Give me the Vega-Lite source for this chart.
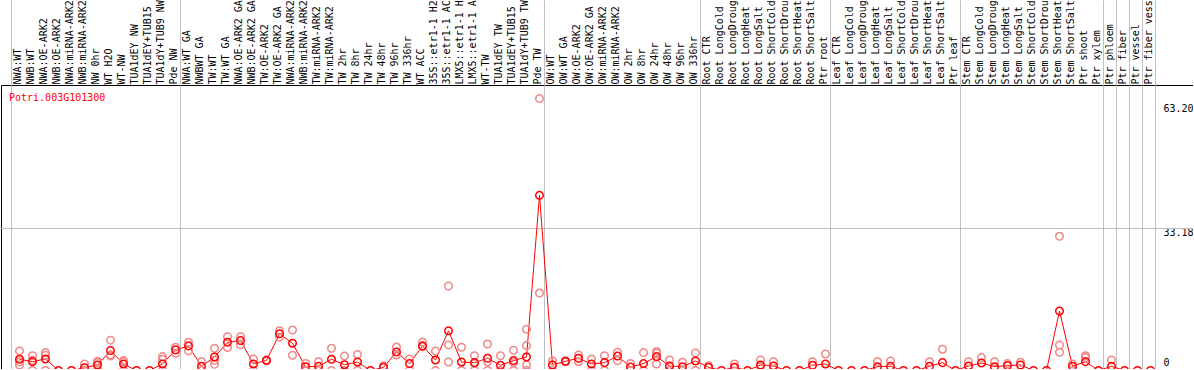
{
  "$schema": "https://vega.github.io/schema/vega-lite/v6.json",
  "width": 1192,
  "height": 284,
  "autosize": {"type": "none"},
  "padding": {"left": 1, "top": 85, "right": 0, "bottom": 0},
  "background": "white",
  "config": {
    "view": {"stroke": "black", "strokeWidth": 1},
    "font": "DejaVu Sans Mono"
  },
  "title": {
    "text": "Potri.003G101300",
    "orient": "bottom",
    "anchor": "start",
    "frame": "group",
    "baseline": "alphabetic",
    "offset": -276,
    "dx": 8,
    "color": "#ff0000",
    "font": "DejaVu Sans Mono",
    "fontSize": 10,
    "fontWeight": "normal"
  },
  "datasets": {
    "means": [
      {"sample": "NWA:WT", "value": 2.61},
      {"sample": "NWB:WT", "value": 2.06},
      {"sample": "NWA:OE-ARK2", "value": 2.68},
      {"sample": "NWB:OE-ARK2", "value": 0},
      {"sample": "NWA:miRNA-ARK2", "value": 0},
      {"sample": "NWB:miRNA-ARK2", "value": 0.65},
      {"sample": "NW 0hr", "value": 1.28},
      {"sample": "WT H2O", "value": 4.63},
      {"sample": "WT-NW", "value": 1.52},
      {"sample": "TUA1dEY NW", "value": 0},
      {"sample": "TUA1dEY+TUB15 NW", "value": 0},
      {"sample": "TUA1dY+TUB9 NW", "value": 1.52},
      {"sample": "Pde NW", "value": 4.79},
      {"sample": "NWA:WT GA", "value": 5.72},
      {"sample": "NWBWT GA", "value": 0.97},
      {"sample": "TW:WT", "value": 3.15},
      {"sample": "TW:WT GA", "value": 6.55},
      {"sample": "NWA:OE-ARK2 GA", "value": 6.95},
      {"sample": "NWB:OE-ARK2 GA", "value": 1.52},
      {"sample": "TW:OE-ARK2", "value": 2.35},
      {"sample": "TW:OE-ARK2 GA", "value": 8.52},
      {"sample": "NWA:miRNA-ARK2 GA", "value": 6.35},
      {"sample": "NWB:miRNA-ARK2 GA", "value": 0.89},
      {"sample": "TW:miRNA-ARK2", "value": 0.97},
      {"sample": "TW:miRNA-ARK2 GA", "value": 2.61},
      {"sample": "TW 2hr", "value": 1.35},
      {"sample": "TW 8hr", "value": 1.98},
      {"sample": "TW 24hr", "value": 0},
      {"sample": "TW 48hr", "value": 0.74},
      {"sample": "TW 96hr", "value": 4.32},
      {"sample": "TW 336hr", "value": 1.6},
      {"sample": "WT ACC", "value": 5.72},
      {"sample": "35S::etr1-1 H2O", "value": 2.45},
      {"sample": "35S::etr1-1 ACC", "value": 9.22},
      {"sample": "LMX5::etr1-1 H2O", "value": 1.98},
      {"sample": "LMX5::etr1-1 ACC", "value": 1.83},
      {"sample": "WT-TW", "value": 2.85},
      {"sample": "TUA1dEY TW", "value": 1.21},
      {"sample": "TUA1dEY+TUB15 TW", "value": 2.3},
      {"sample": "TUA1dY+TUB9 TW", "value": 3.15},
      {"sample": "Pde TW", "value": 40.7},
      {"sample": "OW:WT", "value": 1.28},
      {"sample": "OW:WT GA", "value": 2.14},
      {"sample": "OW:OE-ARK2", "value": 2.85},
      {"sample": "OW:OE-ARK2 GA", "value": 1.52},
      {"sample": "OW:miRNA-ARK2", "value": 1.83},
      {"sample": "OW:miRNA-ARK2 GA", "value": 3.35},
      {"sample": "OW 2hr", "value": 0.82},
      {"sample": "OW 8hr", "value": 1.6},
      {"sample": "OW 24hr", "value": 3.23},
      {"sample": "OW 48hr", "value": 1.05},
      {"sample": "OW 96hr", "value": 0.89},
      {"sample": "OW 336hr", "value": 2.22},
      {"sample": "Root CTR", "value": 0.74},
      {"sample": "Root LongCold", "value": 0},
      {"sample": "Root LongDrought", "value": 0.74},
      {"sample": "Root LongHeat", "value": 0},
      {"sample": "Root LongSalt", "value": 1.28},
      {"sample": "Root ShortCold", "value": 1.05},
      {"sample": "Root ShortDrought", "value": 0},
      {"sample": "Root ShortHeat", "value": 0},
      {"sample": "Root ShortSalt", "value": 1.21},
      {"sample": "Ptr root", "value": 1.52},
      {"sample": "Leaf CTR", "value": 0},
      {"sample": "Leaf LongCold", "value": 0},
      {"sample": "Leaf LongDrought", "value": 0},
      {"sample": "Leaf LongHeat", "value": 0.89},
      {"sample": "Leaf LongSalt", "value": 0.97},
      {"sample": "Leaf ShortCold", "value": 0},
      {"sample": "Leaf ShortDrought", "value": 0},
      {"sample": "Leaf ShortHeat", "value": 0.97},
      {"sample": "Leaf ShortSalt", "value": 1.83},
      {"sample": "Ptr leaf", "value": 0},
      {"sample": "Stem CTR", "value": 1.05},
      {"sample": "Stem LongCold", "value": 1.75},
      {"sample": "Stem LongDrought", "value": 0.89},
      {"sample": "Stem LongHeat", "value": 1.13},
      {"sample": "Stem LongSalt", "value": 1.28},
      {"sample": "Stem ShortCold", "value": 0},
      {"sample": "Stem ShortDrought", "value": 0},
      {"sample": "Stem ShortHeat", "value": 13.83},
      {"sample": "Stem ShortSalt", "value": 0.97},
      {"sample": "Ptr shoot", "value": 2.06},
      {"sample": "Ptr xylem", "value": 0},
      {"sample": "Ptr phloem", "value": 0.97},
      {"sample": "Ptr fiber", "value": 0},
      {"sample": "Ptr vessel", "value": 0},
      {"sample": "Ptr fiber vessel", "value": 0}
    ],
    "reps": [
      {"sample": "NWA:WT", "value": 4.55}, {"sample": "NWA:WT", "value": 2.0}, {"sample": "NWA:WT", "value": 1.28},
      {"sample": "NWB:WT", "value": 3.45}, {"sample": "NWB:WT", "value": 2.35}, {"sample": "NWB:WT", "value": 0},
      {"sample": "NWA:OE-ARK2", "value": 4.15}, {"sample": "NWA:OE-ARK2", "value": 3.55}, {"sample": "NWA:OE-ARK2", "value": 0},
      {"sample": "NWB:miRNA-ARK2", "value": 1.52}, {"sample": "NWB:miRNA-ARK2", "value": 0},
      {"sample": "NW 0hr", "value": 2.15}, {"sample": "NW 0hr", "value": 1.85}, {"sample": "NW 0hr", "value": 0},
      {"sample": "WT H2O", "value": 7.05}, {"sample": "WT H2O", "value": 3.65}, {"sample": "WT H2O", "value": 3.35},
      {"sample": "WT-NW", "value": 2.3}, {"sample": "WT-NW", "value": 2.05}, {"sample": "WT-NW", "value": 0},
      {"sample": "TUA1dY+TUB9 NW", "value": 3.22}, {"sample": "TUA1dY+TUB9 NW", "value": 2.61}, {"sample": "TUA1dY+TUB9 NW", "value": 0},
      {"sample": "Pde NW", "value": 5.41}, {"sample": "Pde NW", "value": 4.01},
      {"sample": "NWA:WT GA", "value": 6.55}, {"sample": "NWA:WT GA", "value": 4.55},
      {"sample": "NWBWT GA", "value": 2.05}, {"sample": "NWBWT GA", "value": 0},
      {"sample": "TW:WT", "value": 5.15}, {"sample": "TW:WT", "value": 2.35}, {"sample": "TW:WT", "value": 1.45},
      {"sample": "TW:WT GA", "value": 7.85}, {"sample": "TW:WT GA", "value": 5.35},
      {"sample": "NWA:OE-ARK2 GA", "value": 7.85}, {"sample": "NWA:OE-ARK2 GA", "value": 5.95},
      {"sample": "NWB:OE-ARK2 GA", "value": 2.68}, {"sample": "NWB:OE-ARK2 GA", "value": 0},
      {"sample": "TW:OE-ARK2", "value": 2.45}, {"sample": "TW:OE-ARK2", "value": 2.25},
      {"sample": "TW:OE-ARK2 GA", "value": 9.25}, {"sample": "TW:OE-ARK2 GA", "value": 7.75},
      {"sample": "NWA:miRNA-ARK2 GA", "value": 9.4}, {"sample": "NWA:miRNA-ARK2 GA", "value": 3.55},
      {"sample": "NWB:miRNA-ARK2 GA", "value": 1.65}, {"sample": "NWB:miRNA-ARK2 GA", "value": 0},
      {"sample": "TW:miRNA-ARK2", "value": 2.05}, {"sample": "TW:miRNA-ARK2", "value": 0},
      {"sample": "TW:miRNA-ARK2 GA", "value": 5.15}, {"sample": "TW:miRNA-ARK2 GA", "value": 0},
      {"sample": "TW 2hr", "value": 3.35}, {"sample": "TW 2hr", "value": 0},
      {"sample": "TW 8hr", "value": 3.7}, {"sample": "TW 8hr", "value": 0},
      {"sample": "TW 48hr", "value": 1.1},
      {"sample": "TW 96hr", "value": 5.45}, {"sample": "TW 96hr", "value": 3.62},
      {"sample": "TW 336hr", "value": 2.68}, {"sample": "TW 336hr", "value": 0},
      {"sample": "WT ACC", "value": 6.6}, {"sample": "WT ACC", "value": 5.5},
      {"sample": "35S::etr1-1 H2O", "value": 4.55}, {"sample": "35S::etr1-1 H2O", "value": 0},
      {"sample": "35S::etr1-1 ACC", "value": 19.64}, {"sample": "35S::etr1-1 ACC", "value": 5.95}, {"sample": "35S::etr1-1 ACC", "value": 1.98},
      {"sample": "LMX5::etr1-1 H2O", "value": 5.41}, {"sample": "LMX5::etr1-1 H2O", "value": 0},
      {"sample": "LMX5::etr1-1 ACC", "value": 3.45}, {"sample": "LMX5::etr1-1 ACC", "value": 1.65}, {"sample": "LMX5::etr1-1 ACC", "value": 0},
      {"sample": "WT-TW", "value": 6.15}, {"sample": "WT-TW", "value": 2.05}, {"sample": "WT-TW", "value": 0},
      {"sample": "TUA1dEY TW", "value": 3.45}, {"sample": "TUA1dEY TW", "value": 0},
      {"sample": "TUA1dEY+TUB15 TW", "value": 4.71}, {"sample": "TUA1dEY+TUB15 TW", "value": 1.85}, {"sample": "TUA1dEY+TUB15 TW", "value": 0},
      {"sample": "TUA1dY+TUB9 TW", "value": 9.6}, {"sample": "TUA1dY+TUB9 TW", "value": 5.78}, {"sample": "TUA1dY+TUB9 TW", "value": 1.28}, {"sample": "TUA1dY+TUB9 TW", "value": 0},
      {"sample": "Pde TW", "value": 63.2}, {"sample": "Pde TW", "value": 18.0},
      {"sample": "OW:WT", "value": 2.22}, {"sample": "OW:WT", "value": 0},
      {"sample": "OW:WT GA", "value": 2.25}, {"sample": "OW:WT GA", "value": 2.05},
      {"sample": "OW:OE-ARK2", "value": 3.62}, {"sample": "OW:OE-ARK2", "value": 2.05},
      {"sample": "OW:OE-ARK2 GA", "value": 2.68}, {"sample": "OW:OE-ARK2 GA", "value": 0},
      {"sample": "OW:miRNA-ARK2", "value": 3.45}, {"sample": "OW:miRNA-ARK2", "value": 0},
      {"sample": "OW:miRNA-ARK2 GA", "value": 4.25}, {"sample": "OW:miRNA-ARK2 GA", "value": 2.3},
      {"sample": "OW 2hr", "value": 1.65}, {"sample": "OW 2hr", "value": 0},
      {"sample": "OW 8hr", "value": 4.15}, {"sample": "OW 8hr", "value": 0},
      {"sample": "OW 24hr", "value": 4.4}, {"sample": "OW 24hr", "value": 4.01}, {"sample": "OW 24hr", "value": 1.52},
      {"sample": "OW 48hr", "value": 2.45}, {"sample": "OW 48hr", "value": 0},
      {"sample": "OW 96hr", "value": 1.91}, {"sample": "OW 96hr", "value": 0},
      {"sample": "OW 336hr", "value": 4.09}, {"sample": "OW 336hr", "value": 0},
      {"sample": "Root CTR", "value": 1.1},
      {"sample": "Root LongDrought", "value": 1.52},
      {"sample": "Root LongSalt", "value": 2.45}, {"sample": "Root LongSalt", "value": 1.05},
      {"sample": "Root ShortCold", "value": 2.05},
      {"sample": "Root ShortSalt", "value": 2.05},
      {"sample": "Ptr root", "value": 3.85},
      {"sample": "Leaf LongHeat", "value": 2.05},
      {"sample": "Leaf LongSalt", "value": 2.22},
      {"sample": "Leaf ShortHeat", "value": 2.05},
      {"sample": "Leaf ShortSalt", "value": 4.95},
      {"sample": "Stem CTR", "value": 2.05},
      {"sample": "Stem LongCold", "value": 3.0},
      {"sample": "Stem LongDrought", "value": 2.05},
      {"sample": "Stem LongHeat", "value": 1.6},
      {"sample": "Stem LongSalt", "value": 1.91},
      {"sample": "Stem ShortHeat", "value": 31.2}, {"sample": "Stem ShortHeat", "value": 5.93}, {"sample": "Stem ShortHeat", "value": 4.23},
      {"sample": "Stem ShortSalt", "value": 1.52},
      {"sample": "Ptr shoot", "value": 3.45}, {"sample": "Ptr shoot", "value": 3.0},
      {"sample": "Ptr phloem", "value": 2.45}
    ]
  },
  "layer": [
    {
      "data": {"values": [{}]},
      "mark": {"type": "rule", "color": "#c0c0c0", "strokeWidth": 1, "yOffset": 0.75},
      "encoding": {
        "y": {"datum": 33.18, "type": "quantitative"}
      }
    },
    {
      "data": {"name": "means"},
      "mark": {"type": "line", "color": "#ff0000", "strokeWidth": 1},
      "encoding": {
        "x": {
          "field": "sample",
          "type": "nominal",
          "sort": null,
          "scale": {"type": "band", "paddingInner": 0, "paddingOuter": 0, "range": [12, 1156]},
          "axis": {
            "orient": "top",
            "title": null,
            "domain": false,
            "labelAngle": -90,
            "labelAlign": "left",
            "labelBaseline": "middle",
            "labelFont": "DejaVu Sans Mono",
            "labelFontSize": 10,
            "labelColor": "black",
            "labelOverlap": false,
            "labelPadding": -84,
            "labelOffset": 0,
            "ticks": true,
            "tickSize": 85,
            "tickWidth": 1,
            "tickColor": "#c0c0c0",
            "bandPosition": 1,
            "tickExtra": true,
            "tickOffset": -2,
            "tickOpacity": {"condition": {"test": "datum.index < 0 || indexof(['Pde NW','Pde TW','OW 336hr','Ptr root','Ptr leaf','Ptr xylem','Ptr phloem','Ptr fiber','Ptr vessel','Ptr fiber vessel'], datum.value) >= 0", "value": 1}, "value": 0},
            "grid": true,
            "gridColor": "#c0c0c0",
            "gridWidth": 1,
            "gridOpacity": {"condition": {"test": "datum.index < 0 || indexof(['Pde NW','Pde TW','OW 336hr','Ptr root','Ptr leaf','Ptr xylem','Ptr phloem','Ptr fiber','Ptr vessel','Ptr fiber vessel'], datum.value) >= 0", "value": 1}, "value": 0}
          }
        },
        "y": {
          "field": "value",
          "type": "quantitative",
          "scale": {"domain": [0, 66.36], "range": [285.5, 0], "nice": false, "zero": true},
          "axis": {
            "orient": "right",
            "title": null,
            "values": [0, 33.18, 63.2],
            "domain": false,
            "ticks": false,
            "grid": false,
            "labelAlign": "left",
            "labelPadding": -30,
            "labelFont": "DejaVu Sans Mono",
            "labelFontSize": 10,
            "labelColor": "black",
            "labelExpr": "datum.value == 0 ? '0' : format(datum.value, '.2f')",
            "labelBaseline": {"condition": {"test": "datum.value == 0", "value": "bottom"}, "value": "top"},
            "labelOffset": {"condition": [{"test": "datum.value == 63.2", "value": 5}, {"test": "datum.value == 0", "value": -3}], "value": 0}
          }
        }
      }
    },
    {
      "data": {"name": "reps"},
      "mark": {"type": "point", "shape": "circle", "filled": false, "color": "#f08888", "size": 57, "strokeWidth": 1.5, "opacity": 1},
      "encoding": {
        "x": {"field": "sample", "type": "nominal", "sort": null},
        "y": {"field": "value", "type": "quantitative"}
      }
    },
    {
      "data": {"name": "means"},
      "mark": {"type": "point", "shape": "circle", "filled": false, "color": "#ff0000", "size": 57, "strokeWidth": 1.5, "opacity": 1},
      "encoding": {
        "x": {"field": "sample", "type": "nominal", "sort": null},
        "y": {"field": "value", "type": "quantitative"}
      }
    }
  ]
}
